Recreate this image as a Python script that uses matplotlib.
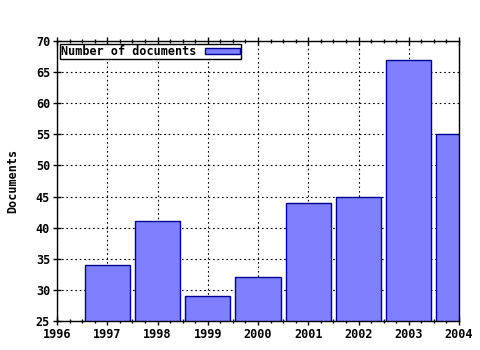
import matplotlib
matplotlib.use("Agg")
import matplotlib.pyplot as plt
from matplotlib.ticker import MultipleLocator

years = [1997, 1998, 1999, 2000, 2001, 2002, 2003, 2004]
documents = [34, 41, 29, 32, 44, 45, 67, 55]
series_label = "Number of documents"
y_label = "Documents"

plt.rcParams['font.family'] = ['DejaVu Sans Mono']
plt.rcParams['font.weight'] = 'bold'

fig = plt.figure(figsize=(4.8, 3.5), dpi=100)
ax = fig.add_axes([57/480, 1-321/350, (459-57)/480, (321-41)/350])

ax.bar(years, documents, width=0.9, color='#8080ff', edgecolor='#000090',
       linewidth=1.0, label=series_label, zorder=2, bottom=0)

ax.set_xlim(1996, 2004)
ax.set_ylim(25, 70)
ax.xaxis.set_major_locator(MultipleLocator(1))
ax.xaxis.set_minor_locator(MultipleLocator(0.25))
ax.yaxis.set_major_locator(MultipleLocator(5))

ax.grid(True, which='major', linestyle=(0, (1.5, 2.5)), color='black', linewidth=0.8, zorder=0)
ax.set_axisbelow(True)

ax.tick_params(axis='both', which='major', direction='inout', length=6, width=1,
               labelsize=8.5, top=True, right=False, pad=2)
ax.tick_params(axis='x', which='minor', direction='inout', length=3, width=1, top=True)
for lab in ax.get_xticklabels() + ax.get_yticklabels():
    lab.set_fontweight('bold')
ax.set_xticklabels([str(int(t)) for t in ax.get_xticks()])

for s in ax.spines.values():
    s.set_linewidth(1.0)
    s.set_color('black')

ax.set_ylabel(y_label, fontsize=8.5, fontweight='bold', labelpad=12)

leg = ax.legend(loc='upper left', markerfirst=False, fontsize=8.5, frameon=True,
                fancybox=False, borderpad=0.1, handlelength=3.0, handleheight=0.5,
                borderaxespad=0.25, handletextpad=0.7, framealpha=1)
leg.get_frame().set_edgecolor('black')
leg.get_frame().set_linewidth(1.0)
for t in leg.get_texts():
    t.set_fontweight('bold')

fig.savefig('out.png', dpi=100)
